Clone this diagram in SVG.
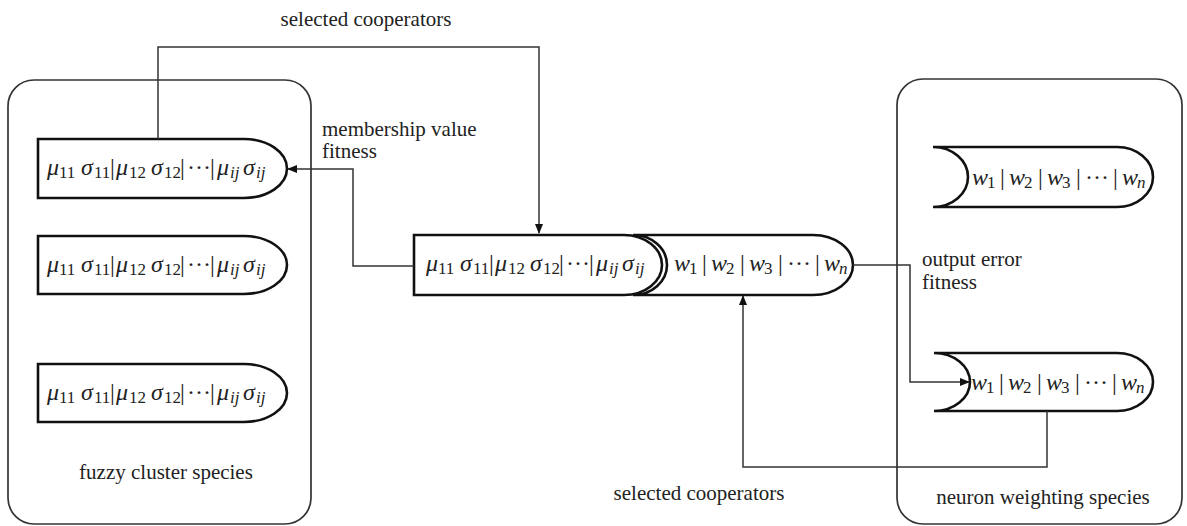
<svg xmlns="http://www.w3.org/2000/svg" width="1187" height="526" viewBox="0 0 1187 526">
<style>
.cont{fill:none;stroke:#333;stroke-width:1.7}
.node{fill:#fff;stroke:#111;stroke-width:2.6}
.conn{fill:none;stroke:#333;stroke-width:1.5}
.lbl{font-family:"Liberation Serif","Times New Roman",serif;font-size:21px;fill:#222}
.m{font-family:"Liberation Serif","Times New Roman",serif;font-size:24px;fill:#222}
.g{font-style:italic}
.s{font-size:17px}
.si{font-size:17px;font-style:italic}
</style>
<defs>
<marker id="arr" markerUnits="userSpaceOnUse" markerWidth="10" markerHeight="8" refX="9" refY="4" orient="auto">
<path d="M0,0 L10,4 L0,8 Z" fill="#111"/>
</marker>
</defs>
<rect width="1187" height="526" fill="#fff"/>

<g id="fuzzy-cluster-species">
<rect class="cont" x="8" y="80" width="303" height="444" rx="26"/>
<text class="lbl" x="166" y="479" text-anchor="middle">fuzzy cluster species</text>
</g>

<g id="neuron-weighting-species">
<rect class="cont" x="897" y="79" width="285" height="445" rx="26"/>
<text class="lbl" x="1043" y="504" text-anchor="middle">neuron weighting species</text>
</g>

<g id="fuzzy-node-1">
<path class="node" d="M38,139 H244 A43,29.5 0 0 1 244,198 H38 Z"/>
<text class="m" y="175"><tspan class="g" x="47">μ</tspan><tspan class="s" x="59" dy="3">11</tspan><tspan class="g" x="81" dy="-3">σ</tspan><tspan class="s" x="94" dy="3">11</tspan><tspan x="110" dy="-3">|</tspan><tspan class="g" x="116">μ</tspan><tspan class="s" x="129" dy="3">12</tspan><tspan class="g" x="151" dy="-3">σ</tspan><tspan class="s" x="164" dy="3">12</tspan><tspan x="180" dy="-3">|</tspan><tspan x="187">···</tspan><tspan x="210">|</tspan><tspan class="g" x="217">μ</tspan><tspan class="si" x="230" dy="3">ij</tspan><tspan class="g" x="243" dy="-3">σ</tspan><tspan class="si" x="256" dy="3">ij</tspan></text>
</g>

<g id="fuzzy-node-2">
<path class="node" d="M38,236 H244 A43,29 0 0 1 244,294 H38 Z"/>
<text class="m" y="272"><tspan class="g" x="47">μ</tspan><tspan class="s" x="59" dy="3">11</tspan><tspan class="g" x="81" dy="-3">σ</tspan><tspan class="s" x="94" dy="3">11</tspan><tspan x="110" dy="-3">|</tspan><tspan class="g" x="116">μ</tspan><tspan class="s" x="129" dy="3">12</tspan><tspan class="g" x="151" dy="-3">σ</tspan><tspan class="s" x="164" dy="3">12</tspan><tspan x="180" dy="-3">|</tspan><tspan x="187">···</tspan><tspan x="210">|</tspan><tspan class="g" x="217">μ</tspan><tspan class="si" x="230" dy="3">ij</tspan><tspan class="g" x="243" dy="-3">σ</tspan><tspan class="si" x="256" dy="3">ij</tspan></text>
</g>

<g id="fuzzy-node-3">
<path class="node" d="M38,364 H244 A43,29 0 0 1 244,422 H38 Z"/>
<text class="m" y="400"><tspan class="g" x="47">μ</tspan><tspan class="s" x="59" dy="3">11</tspan><tspan class="g" x="81" dy="-3">σ</tspan><tspan class="s" x="94" dy="3">11</tspan><tspan x="110" dy="-3">|</tspan><tspan class="g" x="116">μ</tspan><tspan class="s" x="129" dy="3">12</tspan><tspan class="g" x="151" dy="-3">σ</tspan><tspan class="s" x="164" dy="3">12</tspan><tspan x="180" dy="-3">|</tspan><tspan x="187">···</tspan><tspan x="210">|</tspan><tspan class="g" x="217">μ</tspan><tspan class="si" x="230" dy="3">ij</tspan><tspan class="g" x="243" dy="-3">σ</tspan><tspan class="si" x="256" dy="3">ij</tspan></text>
</g>

<g id="combined-node">
<path class="node" d="M414,235 H624 A38,30 0 0 1 624,295 H414 Z"/>
<path class="node" d="M633,235 H813 A40,30 0 0 1 813,295 H633 A34,30 0 0 0 633,235 Z"/>
<text class="m" y="271"><tspan class="g" x="426">μ</tspan><tspan class="s" x="438" dy="3">11</tspan><tspan class="g" x="460" dy="-3">σ</tspan><tspan class="s" x="473" dy="3">11</tspan><tspan x="489" dy="-3">|</tspan><tspan class="g" x="495">μ</tspan><tspan class="s" x="508" dy="3">12</tspan><tspan class="g" x="530" dy="-3">σ</tspan><tspan class="s" x="543" dy="3">12</tspan><tspan x="559" dy="-3">|</tspan><tspan x="566">···</tspan><tspan x="589">|</tspan><tspan class="g" x="596">μ</tspan><tspan class="si" x="609" dy="3">ij</tspan><tspan class="g" x="622" dy="-3">σ</tspan><tspan class="si" x="635" dy="3">ij</tspan></text>
<text class="m" y="271"><tspan class="g" x="674">w</tspan><tspan class="s" x="689" dy="3">1</tspan><tspan x="702" dy="-3">|</tspan><tspan class="g" x="711">w</tspan><tspan class="s" x="726" dy="3">2</tspan><tspan x="740" dy="-3">|</tspan><tspan class="g" x="749">w</tspan><tspan class="s" x="764" dy="3">3</tspan><tspan x="778" dy="-3">|</tspan><tspan x="787">···</tspan><tspan x="815">|</tspan><tspan class="g" x="824">w</tspan><tspan class="si" x="839" dy="3">n</tspan></text>
</g>

<g id="weight-node-1">
<path class="node" d="M933,147 H1117 A36,30 0 0 1 1117,207 H933 A35,30 0 0 0 933,147 Z"/>
<text class="m" y="185"><tspan class="g" x="972">w</tspan><tspan class="s" x="987" dy="3">1</tspan><tspan x="1000" dy="-3">|</tspan><tspan class="g" x="1009">w</tspan><tspan class="s" x="1024" dy="3">2</tspan><tspan x="1038" dy="-3">|</tspan><tspan class="g" x="1047">w</tspan><tspan class="s" x="1062" dy="3">3</tspan><tspan x="1076" dy="-3">|</tspan><tspan x="1085">···</tspan><tspan x="1113">|</tspan><tspan class="g" x="1122">w</tspan><tspan class="si" x="1137" dy="3">n</tspan></text>
</g>

<g id="weight-node-2">
<path class="node" d="M934,353 H1117 A36,29 0 0 1 1117,411 H934 A36,29 0 0 0 934,353 Z"/>
<text class="m" y="390"><tspan class="g" x="971">w</tspan><tspan class="s" x="986" dy="3">1</tspan><tspan x="999" dy="-3">|</tspan><tspan class="g" x="1008">w</tspan><tspan class="s" x="1023" dy="3">2</tspan><tspan x="1037" dy="-3">|</tspan><tspan class="g" x="1046">w</tspan><tspan class="s" x="1061" dy="3">3</tspan><tspan x="1075" dy="-3">|</tspan><tspan x="1084">···</tspan><tspan x="1112">|</tspan><tspan class="g" x="1121">w</tspan><tspan class="si" x="1136" dy="3">n</tspan></text>
</g>

<g id="connectors">
<path class="conn" d="M158,139 V47 H539 V233" marker-end="url(#arr)"/>
<path class="conn" d="M414,266 H353 V169 H288" marker-end="url(#arr)"/>
<path class="conn" d="M853,265 H910 V382 H969" marker-end="url(#arr)"/>
<path class="conn" d="M1047,411 V467 H743 V296" marker-end="url(#arr)"/>
</g>

<g id="labels">
<text class="lbl" x="366" y="26" text-anchor="middle">selected cooperators</text>
<text class="lbl" x="322" y="136">membership value</text>
<text class="lbl" x="322" y="158">fitness</text>
<text class="lbl" x="922" y="266">output error</text>
<text class="lbl" x="922" y="289">fitness</text>
<text class="lbl" x="699" y="500" text-anchor="middle">selected cooperators</text>
</g>
</svg>
